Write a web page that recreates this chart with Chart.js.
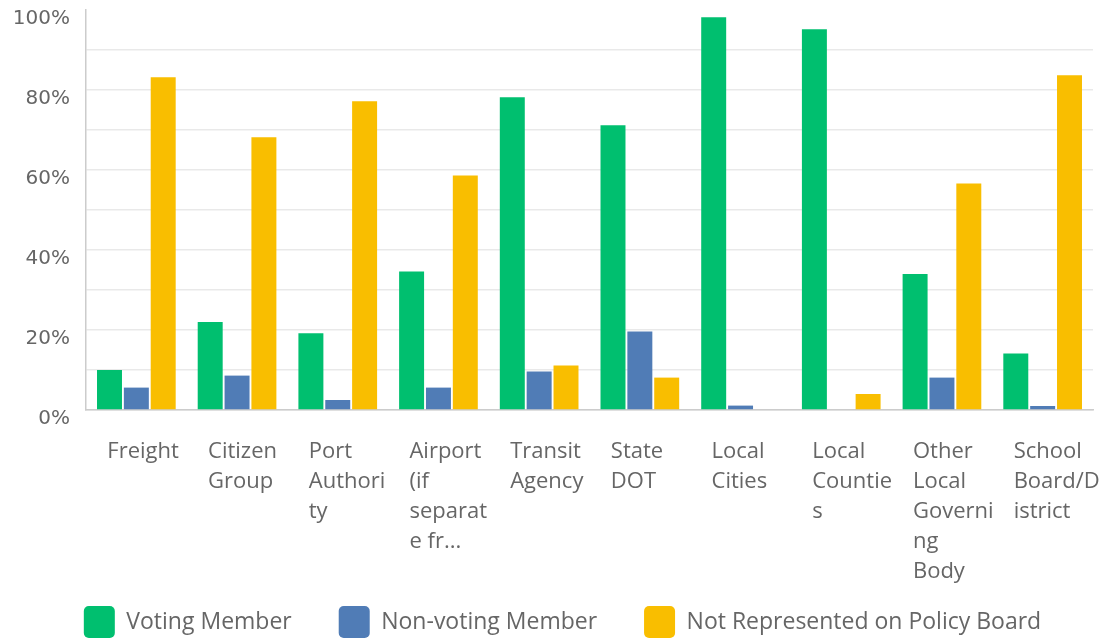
<!DOCTYPE html>
<html>
<head>
<meta charset="utf-8">
<script src="https://cdn.jsdelivr.net/npm/chart.js@4"></script>
<style>
  html, body { margin: 0; padding: 0; background: #ffffff; }
  #wrap { width: 1107px; height: 644px; position: relative; }
</style>
</head>
<body>
<div id="wrap"><canvas id="c" width="1107" height="644"></canvas></div>
<script>
const categories = [
  ["Freight"],
  ["Citizen", "Group"],
  ["Port", "Authori", "ty"],
  ["Airport", "(if", "separat", "e fr..."],
  ["Transit", "Agency"],
  ["State", "DOT"],
  ["Local", "Cities"],
  ["Local", "Countie", "s"],
  ["Other", "Local", "Governi", "ng", "Body"],
  ["School", "Board/D", "istrict"]
];
const seriesNames = ["Voting Member", "Non-voting Member", "Not Represented on Policy Board"];
const votingMember    = [10.0, 22.0, 19.2, 34.6, 78.2, 71.2, 98.2, 95.2, 34.0, 14.1];
const nonVotingMember = [5.6, 8.6, 2.5, 5.6, 9.6, 19.6, 1.1, 0, 8.1, 1.0];
const notRepresented  = [83.2, 68.2, 77.2, 58.6, 11.1, 8.1, 0, 4.0, 56.6, 83.7];
const yTicks = [0, 20, 40, 60, 80, 100];
const colors = ["#00BF6F", "#507CB6", "#F9BE00"];

const FONT = "'Open Sans', 'Noto Sans', sans-serif";
const NUMFONT = "'DejaVu Sans', 'Open Sans', sans-serif";

const legendFitPlugin = {
  id: 'legendFit',
  beforeInit(chart) {
    const lg = chart.legend;
    if (!lg) return;
    const origFit = lg.fit.bind(lg);
    lg.fit = function() { origFit(); this.height = 85; };
  },
  afterLayout(chart) {
    const lg = chart.legend;
    if (!lg) return;
    lg.left += 16; lg.right += 16;
  }
};

new Chart(document.getElementById('c'), {
  type: 'bar',
  data: {
    labels: categories,
    datasets: [
      { label: seriesNames[0], data: votingMember, backgroundColor: colors[0] },
      { label: seriesNames[1], data: nonVotingMember, backgroundColor: colors[1] },
      { label: seriesNames[2], data: notRepresented, backgroundColor: colors[2] }
    ]
  },
  options: {
    responsive: false,
    animation: false,
    devicePixelRatio: 1,
    layout: { padding: { left: 0, right: 14, top: 10, bottom: 0 } },
    datasets: { bar: { categoryPercentage: 0.8, barPercentage: 0.93 } },
    scales: {
      x: {
        grid: { display: false },
        border: { display: true, color: '#cccccc', width: 1.5 },
        ticks: {
          autoSkip: false, maxRotation: 0, minRotation: 0,
          align: 'start', labelOffset: -29, padding: 19,
          color: '#666666',
          font: { family: FONT, size: 22, lineHeight: 30 / 22 }
        },
        afterFit(scale) {
          scale.height = 149;
          scale.paddingLeft = 0; scale.paddingRight = 0;
          scale._computeLabelArea = function() { return undefined; };
        }
      },
      y: {
        min: 0, max: 100,
        grid: {
          color: (ctx) => (ctx.tick && ctx.tick.value === 100) ? 'rgba(0,0,0,0)' : '#e9e9e9',
          drawTicks: false, lineWidth: 1.5
        },
        border: { display: true, color: '#cccccc', width: 1.5 },
        ticks: {
          stepSize: 10,
          padding: 16,
          labelOffset: 9,
          color: '#666666',
          font: { family: NUMFONT, size: 20 },
          callback: (v) => yTicks.includes(v) ? v + '%' : ''
        },
        afterFit(scale) {
          scale.width = 86;
          scale.paddingTop = 0; scale.paddingBottom = 0;
        }
      }
    },
    plugins: {
      tooltip: { enabled: false },
      legend: {
        position: 'bottom',
        labels: {
          boxWidth: 31, boxHeight: 32,
          useBorderRadius: true, borderRadius: 5,
          padding: 47,
          color: '#666666',
          font: { family: FONT, size: 23 }
        }
      }
    }
  },
  plugins: [legendFitPlugin]
});
</script>
</body>
</html>
